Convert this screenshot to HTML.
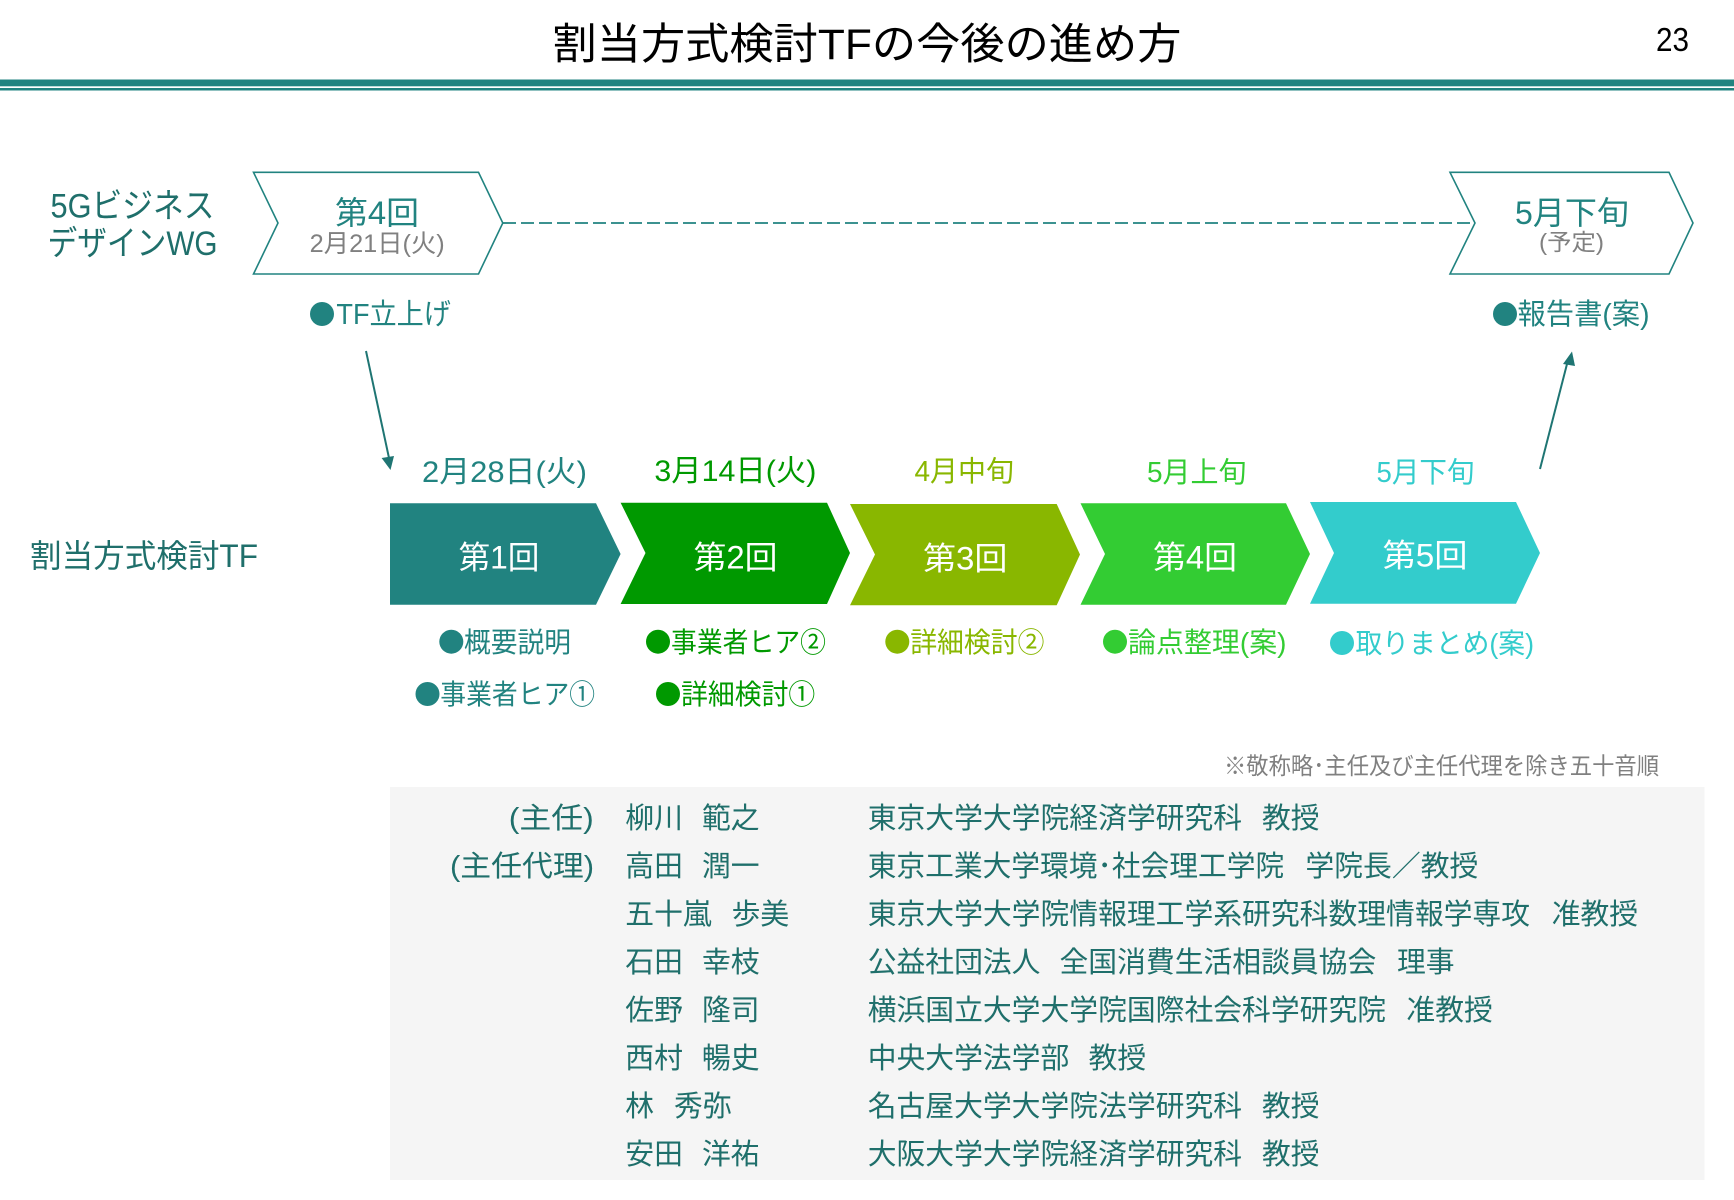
<!DOCTYPE html>
<html lang="ja"><head><meta charset="utf-8"><title>割当方式検討TFの今後の進め方</title>
<style>
html,body{margin:0;padding:0;background:#fff;width:1734px;height:1200px;overflow:hidden}
svg{display:block}
text{font-family:"Liberation Sans","Noto Sans CJK JP",sans-serif;white-space:pre}
.t{fill:#1f6f6b;font-size:28.8px}
</style></head><body>
<svg width="1734" height="1200" viewBox="0 0 1734 1200" xmlns="http://www.w3.org/2000/svg">
<rect width="1734" height="1200" fill="#fff"/>
<text x="552.5" y="59" font-size="43" fill="#000" textLength="629" lengthAdjust="spacingAndGlyphs">割当方式検討TFの今後の進め方</text>
<text x="1656" y="51" font-size="33" fill="#000" textLength="33" lengthAdjust="spacingAndGlyphs">23</text>
<rect x="0" y="79.5" width="1734" height="6.8" fill="#218380"/>
<rect x="0" y="88" width="1734" height="2.5" fill="#218380"/>

<g fill="#fff" stroke="#218380" stroke-width="1.6">
<polygon points="253.5,172.3 478.5,172.3 502.8,223 478.5,274 253.5,274 278,223"/>
<polygon points="1450,172.3 1669,172.3 1693,223 1669,274 1450,274 1475,223"/>
</g>
<line x1="503" y1="223" x2="1475" y2="223" stroke="#218380" stroke-width="1.8" stroke-dasharray="13 5"/>

<text x="50.5" y="217.5" font-size="34" fill="#1f6f6b" textLength="164" lengthAdjust="spacingAndGlyphs">5Gビジネス</text>
<text x="47.5" y="255" font-size="34" fill="#1f6f6b" textLength="170" lengthAdjust="spacingAndGlyphs">デザインWG</text>
<text x="335" y="224" font-size="32" fill="#218380" textLength="84" lengthAdjust="spacingAndGlyphs">第4回</text>
<text x="309.7" y="252" font-size="25" fill="#808080" textLength="135" lengthAdjust="spacingAndGlyphs">2月21日(火)</text>
<text x="1515" y="224" font-size="32" fill="#218380" textLength="114" lengthAdjust="spacingAndGlyphs">5月下旬</text>
<text x="1539" y="250" font-size="23" fill="#808080" textLength="65" lengthAdjust="spacingAndGlyphs">(予定)</text>

<circle cx="322" cy="314" r="12" fill="#218380"/>
<text x="336.4" y="324" font-size="29" fill="#218380" textLength="114.5" lengthAdjust="spacingAndGlyphs">TF立上げ</text>
<circle cx="1505" cy="314" r="12" fill="#218380"/>
<text x="1517.5" y="324" font-size="29" fill="#218380" textLength="132" lengthAdjust="spacingAndGlyphs">報告書(案)</text>

<line x1="366" y1="351" x2="389" y2="458" stroke="#1f7573" stroke-width="2"/>
<polygon points="390.5,470 381.6,458 394,456" fill="#1f7573"/>
<line x1="1540" y1="469" x2="1567" y2="364" stroke="#1f7573" stroke-width="2"/>
<polygon points="1572,351.5 1575,366 1563,364" fill="#1f7573"/>

<text x="422" y="482" font-size="30" fill="#218380" textLength="165" lengthAdjust="spacingAndGlyphs">2月28日(火)</text>
<text x="654.4" y="481" font-size="30" fill="#009900" textLength="162" lengthAdjust="spacingAndGlyphs">3月14日(火)</text>
<text x="914.5" y="481" font-size="28.5" fill="#89b700" textLength="99.5" lengthAdjust="spacingAndGlyphs">4月中旬</text>
<text x="1147" y="482" font-size="28.5" fill="#33cc33" textLength="99.5" lengthAdjust="spacingAndGlyphs">5月上旬</text>
<text x="1376.5" y="482" font-size="28.5" fill="#33cccc" textLength="98" lengthAdjust="spacingAndGlyphs">5月下旬</text>

<text x="30" y="567" font-size="32" fill="#1f6f6b" textLength="228" lengthAdjust="spacingAndGlyphs">割当方式検討TF</text>

<polygon points="390,503.3 596,503.3 620.6,554 596,604.7 390,604.7" fill="#218380"/>
<polygon points="620.6,502.7 827,502.7 850,553 827,604 620.6,604 645.5,553" fill="#009900"/>
<polygon points="850,504 1056.7,504 1080,554.5 1056.7,605.3 850,605.3 875,554.5" fill="#89b700"/>
<polygon points="1080.5,503.3 1286,503.3 1310,554 1286,604.7 1080.5,604.7 1105,554" fill="#33cc33"/>
<polygon points="1310,502 1516,502 1540,553 1516,603.7 1310,603.7 1334,553" fill="#33cccc"/>

<text x="458.5" y="568.5" font-size="32" fill="#fff" textLength="81" lengthAdjust="spacingAndGlyphs">第1回</text>
<text x="693.5" y="568.5" font-size="32" fill="#fff" textLength="84" lengthAdjust="spacingAndGlyphs">第2回</text>
<text x="923" y="569.5" font-size="32" fill="#fff" textLength="84.5" lengthAdjust="spacingAndGlyphs">第3回</text>
<text x="1153" y="568.5" font-size="32" fill="#fff" textLength="84" lengthAdjust="spacingAndGlyphs">第4回</text>
<text x="1382.5" y="566.5" font-size="32" fill="#fff" textLength="85" lengthAdjust="spacingAndGlyphs">第5回</text>

<circle cx="451.3" cy="641.7" r="12" fill="#218380"/>
<text x="464" y="652" font-size="28" fill="#218380" textLength="107" lengthAdjust="spacingAndGlyphs">概要説明</text>
<circle cx="658" cy="641.7" r="12" fill="#009900"/>
<text x="671" y="652" font-size="28" fill="#009900" textLength="155" lengthAdjust="spacingAndGlyphs">事業者ヒア②</text>
<circle cx="897.3" cy="641.7" r="12" fill="#89b700"/>
<text x="910.2" y="652" font-size="28" fill="#89b700" textLength="134.3" lengthAdjust="spacingAndGlyphs">詳細検討②</text>
<circle cx="1115" cy="641.7" r="12" fill="#33cc33"/>
<text x="1128" y="652" font-size="28" fill="#33cc33" textLength="158.5" lengthAdjust="spacingAndGlyphs">論点整理(案)</text>
<circle cx="1342" cy="643" r="12" fill="#33cccc"/>
<text x="1355.5" y="653" font-size="28" fill="#33cccc" textLength="178.5" lengthAdjust="spacingAndGlyphs">取りまとめ(案)</text>
<circle cx="427.5" cy="694" r="12" fill="#218380"/>
<text x="440.3" y="704" font-size="28" fill="#218380" textLength="154.8" lengthAdjust="spacingAndGlyphs">事業者ヒア①</text>
<circle cx="668" cy="694" r="12" fill="#009900"/>
<text x="681" y="704" font-size="28" fill="#009900" textLength="134.3" lengthAdjust="spacingAndGlyphs">詳細検討①</text>

<text x="1224" y="774" font-size="23.5" fill="#808080" textLength="435" lengthAdjust="spacingAndGlyphs">※敬称略･主任及び主任代理を除き五十音順</text>

<rect x="390" y="787" width="1314.5" height="393" fill="#f5f5f5"/>

<g transform="translate(-1,-1)">
<text class="t" x="509.8" y="829" textLength="85" lengthAdjust="spacingAndGlyphs">(主任)</text>
<text class="t" x="451" y="877" textLength="144" lengthAdjust="spacingAndGlyphs">(主任代理)</text>

<text class="t" x="626.3" y="829">柳川</text><text class="t" x="703" y="829">範之</text>
<text class="t" x="626.3" y="877">高田</text><text class="t" x="703" y="877">潤一</text>
<text class="t" x="626.3" y="925">五十嵐</text><text class="t" x="732.6" y="925">歩美</text>
<text class="t" x="626.3" y="973">石田</text><text class="t" x="703" y="973">幸枝</text>
<text class="t" x="626.3" y="1021">佐野</text><text class="t" x="703" y="1021">隆司</text>
<text class="t" x="626.3" y="1069">西村</text><text class="t" x="703" y="1069">暢史</text>
<text class="t" x="626.3" y="1117">林</text><text class="t" x="675" y="1117">秀弥</text>
<text class="t" x="626.3" y="1165">安田</text><text class="t" x="703" y="1165">洋祐</text>

<text class="t" x="868.7" y="829">東京大学大学院経済学研究科</text><text class="t" x="1263" y="829">教授</text>
<text class="t" x="868.7" y="877" textLength="416.5" lengthAdjust="spacingAndGlyphs">東京工業大学環境･社会理工学院</text><text class="t" x="1306.4" y="877" textLength="173" lengthAdjust="spacingAndGlyphs">学院長／教授</text>
<text class="t" x="868.7" y="925">東京大学大学院情報理工学系研究科数理情報学専攻</text><text class="t" x="1552.7" y="925">准教授</text>
<text class="t" x="868.7" y="973">公益社団法人</text><text class="t" x="1060.5" y="973">全国消費生活相談員協会</text><text class="t" x="1398" y="973">理事</text>
<text class="t" x="868.7" y="1021">横浜国立大学大学院国際社会科学研究院</text><text class="t" x="1407.4" y="1021">准教授</text>
<text class="t" x="868.7" y="1069">中央大学法学部</text><text class="t" x="1089.6" y="1069">教授</text>
<text class="t" x="868.7" y="1117">名古屋大学大学院法学研究科</text><text class="t" x="1263" y="1117">教授</text>
<text class="t" x="868.7" y="1165">大阪大学大学院経済学研究科</text><text class="t" x="1263" y="1165">教授</text>
</g>
</svg>
</body></html>
